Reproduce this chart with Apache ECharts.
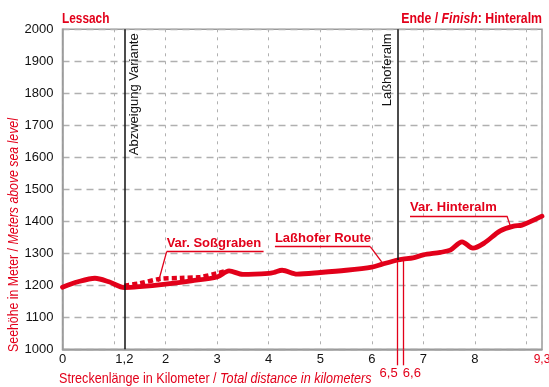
<!DOCTYPE html>
<html>
<head>
<meta charset="utf-8">
<script src="https://cdn.jsdelivr.net/npm/echarts@6/dist/echarts.min.js"></script>
<style>
  html, body { margin: 0; padding: 0; background: #fff; }
  #chart { width: 549px; height: 387px; }
</style>
</head>
<body>
<div id="chart"></div>
<script>
// Elevation profile Lessach -> Hinteralm (km, metres above sea level)
const mainRoute = [
  [0, 1194], [0.3, 1211], [0.63, 1222], [0.9, 1211], [1.2, 1193], [1.5, 1196],
  [2, 1204], [2.5, 1214], [3, 1226], [3.23, 1245], [3.5, 1234], [4, 1237],
  [4.1, 1240], [4.26, 1247], [4.55, 1235], [5, 1240], [5.5, 1247], [6, 1257],
  [6.2, 1266], [6.5, 1279], [6.6, 1282], [6.8, 1286], [7, 1295], [7.33, 1303],
  [7.52, 1310], [7.75, 1336], [7.96, 1316], [8.17, 1331], [8.49, 1370],
  [8.75, 1385], [8.91, 1388], [9.3, 1416]
];
// Variant via Soßgraben (dashed)
const variantSoss = [
  [1.2, 1199], [1.5, 1206], [1.89, 1220], [2.3, 1223], [2.67, 1226],
  [2.99, 1237], [3.15, 1244]
];
// Distance labels on the x axis
const xLabelValues = [0, 1.2, 2, 3, 4, 5, 6, 7, 8, 9.3];
const hutMarks = [6.5, 6.6];
const hutElev = [1279, 1282];
// Vertical markers
const branchKm = 1.2;
const alpKm = 6.5;
const alpElev = 1279;
// Callouts: [text, underline start km, underline end km, underline elevation, pointer km, pointer elevation]
const callouts = [
  ['Var. Soßgraben', 2.02, 3.9, 1305, 1.86, 1211],
  ['Laßhofer Route', 4.12, 5.97, 1321, 6.19, 1273],
  ['Var. Hinteralm', 6.74, 8.62, 1417, 8.68, 1388]
];

const RED = '#e2001a';
const FONT = '"Liberation Sans", Arial, sans-serif';
const fmtKm = v => String(v).replace('.', ',');

const chart = echarts.init(document.getElementById('chart'), null, { renderer: 'canvas' });

const markData = [];
// branch line full height
markData.push([
  { coord: [branchKm, 1000], lineStyle: { color: '#111', width: 1.5, type: 'solid' },
    label: { show: true, position: 'insideEndBottom', formatter: 'Abzweigung Variante',
      color: '#111', fontFamily: FONT, fontSize: 13, distance: [4, 4] } },
  { coord: [branchKm, 2000] }
]);
// Laßhoferalm line from profile up
markData.push([
  { coord: [alpKm, alpElev], lineStyle: { color: '#111', width: 1.5, type: 'solid' },
    label: { show: true, position: 'insideEndTop', formatter: 'Laßhoferalm',
      color: '#111', fontFamily: FONT, fontSize: 13, distance: [4, 4] } },
  { coord: [alpKm, 2000] }
]);
// red double line down from profile
hutMarks.forEach((km, i) => {
  markData.push([
    { coord: [km, hutElev[i]], lineStyle: { color: RED, width: 1.3, type: 'solid' }, label: { show: false } },
    { coord: [km, 1000] }
  ]);
});
// callouts
callouts.forEach(c => {
  const [txt, x0, x1, y, px, py] = c;
  markData.push([
    { coord: [x0, y], lineStyle: { color: RED, width: 1.3, type: 'solid' },
      label: { show: true, position: 'insideStartTop', formatter: txt, color: RED,
        fontFamily: FONT, fontWeight: 'bold', fontSize: 13, distance: [0, 2] } },
    { coord: [x1, y] }
  ]);
  const lx = (txt === 'Var. Soßgraben') ? x0 : x1;
  markData.push([
    { coord: [lx, y], lineStyle: { color: RED, width: 1.3, type: 'solid' }, label: { show: false } },
    { coord: [px, py] }
  ]);
});

const baseX = {
  type: 'value', min: 0, max: 9.3, interval: 1, position: 'bottom'
};

const boldRed = { fill: RED, fontFamily: FONT, fontWeight: 'bold', fontSize: 15 };

const option = {
  animation: false,
  backgroundColor: '#fff',
  grid: {
    left: 62.5, right: 7, top: 29.3, bottom: 37.7,
    show: true, borderColor: '#9a9a9a', borderWidth: 1.5,
    containLabel: false, outerBoundsMode: 'none'
  },
  graphic: [
    { type: 'text', x: 62, y: 18.5, scaleX: 0.79,
      style: { text: 'Lessach', align: 'left', verticalAlign: 'middle',
        fill: RED, fontFamily: FONT, fontWeight: 'bold', fontSize: 15 } },
    { type: 'text', x: 542, y: 18.5, scaleX: 0.82,
      style: { text: '{b|Ende / }{i|Finish}{b|: Hinteralm}', align: 'right', verticalAlign: 'middle',
        rich: {
          b: boldRed,
          i: Object.assign({}, boldRed, { fontStyle: 'italic' })
        } } },
    { type: 'text', x: 14, y: 235, rotation: Math.PI / 2, scaleX: 0.82,
      style: { text: '{a|Seehöhe in Meter / }{b|Meters above sea level}', align: 'center', verticalAlign: 'middle',
        rich: {
          a: { fill: RED, fontFamily: FONT, fontSize: 15 },
          b: { fill: RED, fontFamily: FONT, fontSize: 15, fontStyle: 'italic' }
        } } },
    { type: 'text', x: 59, y: 379, scaleX: 0.84,
      style: { text: '{a|Streckenlänge in Kilometer / }{b|Total distance in kilometers}', align: 'left', verticalAlign: 'middle',
        rich: {
          a: { fill: RED, fontFamily: FONT, fontSize: 15 },
          b: { fill: RED, fontFamily: FONT, fontSize: 15, fontStyle: 'italic' }
        } } }
  ],
  xAxis: [
    Object.assign({}, baseX, {
      axisLine: { show: true, lineStyle: { color: '#9a9a9a', width: 1.5 } },
      axisTick: { show: false },
      splitLine: { show: true, lineStyle: { color: '#b0b0b0', width: 1, type: [3, 5] } },
      axisLabel: {
        customValues: xLabelValues, margin: 4, fontFamily: FONT, fontSize: 13,
        color: '#111',
        formatter: v => v === 9.3 ? '{r|' + fmtKm(v) + '}' : fmtKm(v),
        rich: { r: { color: RED, fontFamily: FONT, fontSize: 12 } }
      }
    }),
    Object.assign({}, baseX, {
      axisLine: { show: false },
      splitLine: { show: false },
      axisTick: { show: true, customValues: [hutMarks[0]], length: 16, lineStyle: { color: RED, width: 1.3 } },
      axisLabel: { customValues: [hutMarks[0]], margin: 18, align: 'right', color: RED,
        fontFamily: FONT, fontSize: 13, formatter: fmtKm }
    }),
    Object.assign({}, baseX, {
      axisLine: { show: false },
      splitLine: { show: false },
      axisTick: { show: true, customValues: [hutMarks[1]], length: 16, lineStyle: { color: RED, width: 1.3 } },
      axisLabel: { customValues: [hutMarks[1]], margin: 18, align: 'left', color: RED,
        fontFamily: FONT, fontSize: 13, formatter: fmtKm }
    })
  ],
  yAxis: {
    type: 'value', min: 1000, max: 2000, interval: 100,
    axisLine: { show: true, lineStyle: { color: '#9a9a9a', width: 1.5 } },
    axisTick: { show: false },
    splitLine: { show: true, lineStyle: { color: '#b0b0b0', width: 1.3, type: [7, 5] } },
    axisLabel: { margin: 9, fontFamily: FONT, fontSize: 13, color: '#111', formatter: v => String(v) }
  },
  series: [
    {
      type: 'line', name: 'Var. Soßgraben', data: variantSoss, xAxisIndex: 0,
      smooth: 0.3, symbol: 'none', z: 3,
      lineStyle: { color: RED, width: 4.5, type: [5, 3], cap: 'butt' }
    },
    {
      type: 'line', name: 'Laßhofer Route', data: mainRoute, xAxisIndex: 0,
      smooth: 0.3, symbol: 'none', z: 4,
      lineStyle: { color: RED, width: 4.8, cap: 'round', join: 'round' },
      markLine: {
        silent: true, symbol: 'none', animation: false,
        data: markData
      }
    },
    // keeps the secondary distance axes bound to the same scale
    { type: 'line', data: [], xAxisIndex: 1 },
    { type: 'line', data: [], xAxisIndex: 2 }
  ]
};

chart.setOption(option);
</script>
</body>
</html>
